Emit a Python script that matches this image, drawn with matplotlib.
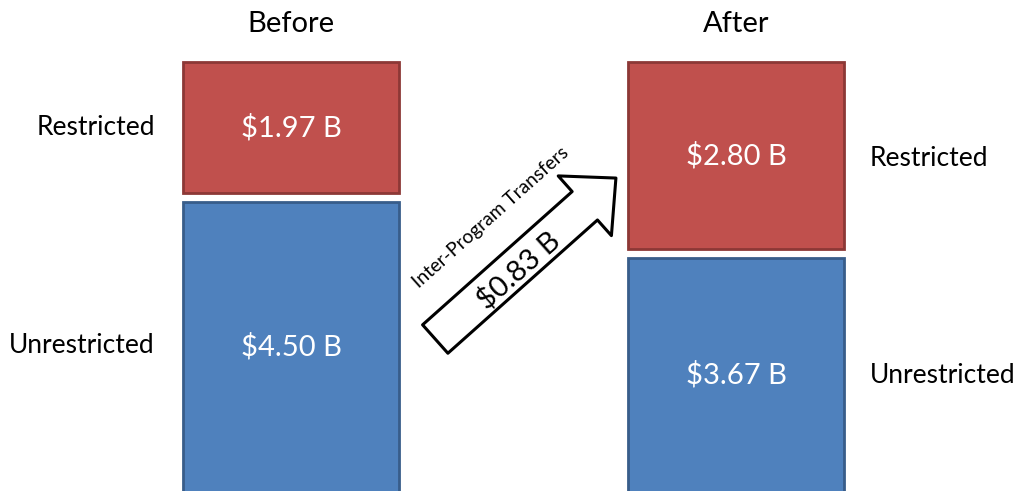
import matplotlib.pyplot as plt

plt.rcParams['font.family'] = ['Lato', 'DejaVu Sans']

# data (billions)
stages = ["Before", "After"]
unrestricted = [4.50, 3.67]
restricted = [1.97, 2.80]
transfer = 0.83

red = "#c0504d"
red_edge = "#8c3836"
blue = "#4f81bd"
blue_edge = "#385d8a"

fig = plt.figure(figsize=(10.16, 4.91), dpi=100)
ax = fig.add_axes([0, 0, 1, 1])

x = [0, 1]
width = 0.485
gap = 0.135
ybottom, ytop = 0.175, 7.535

ax.bar(x, unrestricted, width=width, color=blue, edgecolor=blue_edge, linewidth=2)
ax.bar(x, restricted, width=width, bottom=[u + gap for u in unrestricted],
       color=red, edgecolor=red_edge, linewidth=2)

for i in range(2):
    # blue bars run off the bottom, label sits in the visible part
    ax.text(x[i], (ybottom + unrestricted[i]) / 2,
            "\\$%.2f B" % unrestricted[i], ha="center", va="center",
            color="white", fontsize=21)
    ax.text(x[i], unrestricted[i] + gap + restricted[i] / 2,
            "\\$%.2f B" % restricted[i], ha="center", va="center",
            color="white", fontsize=21)
    ax.text(x[i], 7.17, stages[i], ha="center", va="center", fontsize=21)

# side labels
ax.text(-0.306, unrestricted[0] + gap + restricted[0] / 2, "Restricted",
        ha="right", va="center", fontsize=19)
ax.text(-0.306, 2.36, "Unrestricted", ha="right", va="center", fontsize=19)
ax.text(1.3, 5.16, "Restricted", ha="left", va="center", fontsize=19)
ax.text(1.3, 1.9, "Unrestricted", ha="left", va="center", fontsize=19)

# transfer arrow
ax.annotate("", xy=(0.730, 4.866), xytext=(0.324, 2.453),
            arrowprops=dict(arrowstyle="simple,head_length=3.0,head_width=5.76,tail_width=2.74",
                            mutation_scale=10, fc="white", ec="black", lw=2.2,
                            shrinkA=0, shrinkB=0))
ax.text(0.510, 3.48, "\\$%.2f B" % transfer, rotation=41.7, ha="center", va="center",
        rotation_mode="anchor", fontsize=21)
ax.text(0.448, 4.27, "Inter-Program Transfers", rotation=41.7, ha="center", va="center",
        rotation_mode="anchor", fontsize=13.8)

ax.set_xlim(-0.654, 1.629)
ax.set_ylim(ybottom, ytop)
ax.axis("off")

fig.savefig("out.png", dpi=100)
